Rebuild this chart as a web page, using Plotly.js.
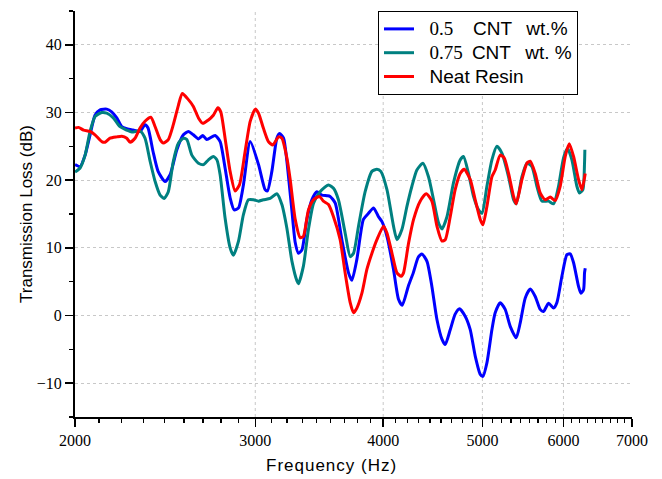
<!DOCTYPE html>
<html>
<head>
<meta charset="utf-8">
<script src="https://cdn.plot.ly/plotly-3.0.1.min.js"></script>
<style>
  html, body { margin: 0; padding: 0; background: #fff; }
  #chart { width: 662px; height: 479px; }
  .annotation-text { letter-spacing: 1px; }
</style>
</head>
<body>
<div id="chart"></div>
<script>
// ---- data ----
const seriesNames = ["0.5 CNT wt.%", "0.75 CNT wt. %", "Neat Resin"];

const freqBlue = [2000,2023,2046,2069,2092,2116,2148,2172,2197,2222,2247,2279,2315,2341,2357,2384,2411,2449,2477,2515,2552,2581,2610,2640,2666,2690,2741,2772,2803,2835,2861,2889,2921,2966,3022,3067,3083,3114,3149,3168,3197,3221,3258,3282,3306,3332,3369,3407,3446,3485,3524,3550,3591,3645,3700,3728,3770,3826,3870,3914,3958,3988,4034,4094,4140,4175,4232,4280,4328,4364,4414,4463,4514,4565,4599,4651,4703,4749,4810,4865,4920,4976,5006,5051,5108,5146,5204,5263,5323,5395,5444,5506,5568,5631,5694,5737,5802,5868,5912,5979,6047,6092,6138,6207,6240,6277,6291,6301];
const tlBlue   = [22.3,22.0,23.7,26.7,29.6,30.4,30.5,30.1,29.2,27.9,27.6,27.4,27.2,28.2,27.7,24.2,21.3,19.8,20.8,24.5,26.7,27.2,26.7,26.1,26.6,26.0,26.6,25.7,21.8,17.4,15.6,15.9,19.3,25.7,22.3,18.6,18.4,21.3,26.2,26.9,26.2,22.8,15.4,10.8,9.2,9.7,14.2,17.1,18.3,17.8,17.7,17.6,16.6,11.2,6.3,5.2,8.3,14.2,15.1,15.9,14.6,13.9,11.7,6.8,2.4,1.5,4.3,6.3,8.6,9.1,8.0,4.3,-0.6,-3.5,-4.3,-2.1,0.2,1.0,-0.1,-2.1,-6.0,-8.7,-9.0,-7.0,-2.1,0.4,1.9,0.9,-1.6,-3.3,-1.1,2.6,3.9,2.8,0.9,0.6,1.8,1.1,1.9,5.8,9.0,9.1,7.8,4.3,3.3,3.8,6.3,7.0];

const freqTeal = [2000,2023,2046,2069,2092,2124,2148,2180,2213,2247,2273,2315,2341,2368,2395,2422,2444,2467,2495,2524,2552,2572,2601,2640,2670,2700,2730,2752,2772,2803,2835,2856,2889,2921,2954,2988,3022,3055,3102,3149,3185,3221,3258,3295,3306,3343,3381,3420,3471,3537,3577,3617,3672,3714,3742,3784,3841,3900,3944,3979,4034,4094,4126,4172,4219,4267,4315,4374,4429,4480,4530,4565,4617,4685,4757,4792,4846,4901,4957,4995,5051,5108,5166,5224,5303,5363,5395,5465,5527,5589,5652,5716,5802,5868,5934,6001,6055,6115,6184,6220,6268,6291,6296];
const tlTeal   = [21.2,21.8,23.7,27.2,29.4,30.0,29.9,29.2,27.9,27.4,27.1,27.3,26.2,22.8,19.8,17.8,17.3,18.3,22.8,25.5,26.2,26.0,23.7,22.5,22.3,23.0,23.5,23.0,20.8,14.4,10.0,8.9,11.0,14.9,17.1,17.1,16.9,17.1,17.3,18.0,16.4,12.9,8.0,5.1,4.7,7.3,12.7,16.6,18.3,19.3,18.8,17.1,12.2,8.7,9.2,13.2,18.3,21.3,21.6,21.3,18.6,13.2,11.2,12.7,16.1,19.1,21.5,22.5,20.5,17.1,13.7,12.8,14.6,19.6,23.0,23.5,21.0,17.6,15.6,15.1,19.1,23.0,25.0,24.0,20.5,17.1,16.5,20.5,22.5,22.0,19.1,16.9,16.9,16.5,19.1,23.3,24.7,23.0,19.1,18.1,18.6,22.5,24.5];

const freqRed = [2000,2016,2039,2069,2092,2124,2140,2164,2197,2222,2247,2264,2289,2315,2341,2372,2395,2422,2440,2467,2495,2524,2546,2581,2610,2640,2666,2700,2730,2758,2776,2803,2835,2867,2895,2932,2966,3000,3022,3055,3090,3121,3161,3185,3221,3245,3282,3319,3343,3381,3420,3466,3497,3537,3577,3631,3672,3714,3742,3770,3813,3856,3900,3944,4003,4034,4080,4126,4165,4187,4235,4283,4347,4407,4463,4514,4565,4599,4651,4703,4757,4799,4865,4920,4976,5006,5051,5108,5146,5204,5251,5303,5363,5395,5465,5527,5568,5631,5694,5759,5824,5890,5956,6024,6078,6138,6207,6254,6301];
const tlRed   = [27.7,27.8,27.4,27.2,26.7,25.7,25.6,26.2,26.4,26.5,26.2,25.6,26.2,27.7,28.7,29.3,27.9,26.0,25.5,26.0,28.2,31.1,32.8,31.9,30.9,29.2,28.4,28.9,29.6,30.7,30.1,26.2,21.3,18.4,19.3,24.2,28.7,30.5,29.9,27.7,25.7,25.2,26.4,26.2,23.3,20.1,14.2,11.5,11.7,15.6,17.1,17.6,16.9,16.4,14.6,11.2,6.3,1.9,0.4,1.1,3.3,6.8,9.2,11.2,13.2,12.2,9.2,6.3,5.8,6.3,10.7,14.2,16.9,18.0,16.9,13.2,11.0,11.2,14.6,18.6,21.0,21.6,20.1,17.1,14.2,13.4,16.1,20.5,21.5,23.7,23.3,21.0,17.6,16.5,20.1,22.5,22.8,21.0,18.1,17.1,17.5,17.0,19.1,23.5,25.4,23.5,20.1,18.6,21.0];

const xTickVals = [2000, 3000, 4000, 5000, 6000, 7000];
const xTickText = ["2000", "3000", "4000", "5000", "6000", "7000"];
const xGridVals = [3000, 4000, 5000, 6000];
const yRange = [-15, 45];

// minor ticks: 8 evenly spaced (in Hz) between major ticks
const xMinorVals = [];
for (let i = 0; i < xTickVals.length - 1; i++) {
  for (let k = 1; k <= 8; k++) xMinorVals.push(xTickVals[i] + (xTickVals[i+1] - xTickVals[i]) * k / 9);
}

// ---- chart ----
const serif = "Liberation Serif, Times New Roman, serif";
const sans = "Liberation Sans, Arial, sans-serif";
const xRange = [Math.log10(2000), Math.log10(7000)];

const NB = '\u00a0', TH = '\u2009';
const sp = (s) => '<span style="font-size:19px">' + s + '</span>';
const num = (s) => '<span style="font-family:' + serif + ';font-size:19px">' + s + '</span>';
const legendLabels = [
  sp(NB + NB) + num('0.5') + sp(NB + NB + NB + TH + 'CNT' + NB + NB + TH + 'wt.%'),
  sp(NB + NB) + num('0.75') + sp(NB + TH + 'CNT' + NB + NB + TH + 'wt.' + NB + '%'),
  sp(NB + NB + 'Neat Resin')
];

const traces = [
  {x: freqBlue, y: tlBlue, name: legendLabels[0], type: 'scatter', mode: 'lines',
   line: {color: '#0000ff', width: 3, shape: 'spline', smoothing: 0.6}},
  {x: freqTeal, y: tlTeal, name: legendLabels[1], type: 'scatter', mode: 'lines',
   line: {color: '#008080', width: 3, shape: 'spline', smoothing: 0.6}},
  {x: freqRed, y: tlRed, name: legendLabels[2], type: 'scatter', mode: 'lines',
   line: {color: '#ff0000', width: 3, shape: 'spline', smoothing: 0.6}}
];

const noGrid = {showgrid: false, gridcolor: 'rgba(0,0,0,0)', gridwidth: 0};
const tickBase = {tickcolor: '#000', showline: true, linecolor: '#000', linewidth: 2, zeroline: false};

// vertical dotted grid lines at the major frequencies
const gridShapes = xGridVals.map(v => ({
  type: 'line', xref: 'x', yref: 'paper', x0: v, x1: v, y0: 0, y1: 1, layer: 'below',
  line: {color: '#c8c8c8', width: 1, dash: 'dot'}
}));

const layout = {
  width: 662, height: 479,
  margin: {l: 75, r: 30, t: 11, b: 62},
  paper_bgcolor: '#fff', plot_bgcolor: '#fff',
  showlegend: true,
  legend: {x: 0.544, y: 1, xanchor: 'left', yanchor: 'top',
           bgcolor: '#fff', bordercolor: '#000', borderwidth: 1,
           font: {family: sans, size: 16, color: '#000'},
           tracegroupgap: 0},
  shapes: gridShapes,
  xaxis: Object.assign({
    type: 'log', range: xRange, tickmode: 'array', tickvals: xTickVals, ticktext: xTickText,
    ticks: 'outside', ticklen: 8, tickwidth: 1.5,
    tickfont: {family: serif, size: 16, color: '#000'},
    minor: Object.assign({tickmode: 'array', tickvals: xMinorVals, ticks: 'outside', ticklen: 4, tickwidth: 1.2, tickcolor: '#000'}, noGrid)
  }, tickBase, noGrid),
  yaxis: Object.assign({
    range: yRange, dtick: 10, tick0: 0,
    ticks: 'outside', ticklen: 8, tickwidth: 1.5,
    tickfont: {family: serif, size: 16, color: '#000'},
    title: {text: 'Transmission Loss (dB)', font: {family: sans, size: 17, color: '#000'}, standoff: 0},
    showgrid: true, gridcolor: '#c8c8c8', griddash: 'dot', gridwidth: 1,
    minor: Object.assign({dtick: 5, tick0: 0, ticks: 'outside', ticklen: 4, tickwidth: 1.2, tickcolor: '#000'}, noGrid)
  }, tickBase),
  xaxis2: Object.assign({
    type: 'log', range: xRange, overlaying: 'x', side: 'top', anchor: 'y',
    tickmode: 'array', tickvals: xTickVals, showticklabels: false,
    ticks: 'inside', ticklen: 6, tickwidth: 1.5,
    minor: Object.assign({tickmode: 'array', tickvals: xMinorVals, ticks: 'inside', ticklen: 4, tickwidth: 1.2, tickcolor: '#000'}, noGrid)
  }, tickBase, noGrid),
  yaxis2: Object.assign({
    range: yRange, overlaying: 'y', side: 'right', anchor: 'x', dtick: 10, tick0: 0,
    showticklabels: false, ticks: 'inside', ticklen: 6, tickwidth: 1.5,
    minor: Object.assign({dtick: 5, tick0: 0, ticks: 'inside', ticklen: 4, tickwidth: 1.2, tickcolor: '#000'}, noGrid)
  }, tickBase, noGrid),
  annotations: [{
    text: 'Frequency (Hz)', xref: 'paper', yref: 'paper', x: 0.46, y: -0.12,
    xanchor: 'center', yanchor: 'middle', showarrow: false,
    font: {family: sans, size: 17, color: '#000'}
  }]
};

Plotly.newPlot('chart', traces, layout, {staticPlot: true, displayModeBar: false});
</script>
</body>
</html>
